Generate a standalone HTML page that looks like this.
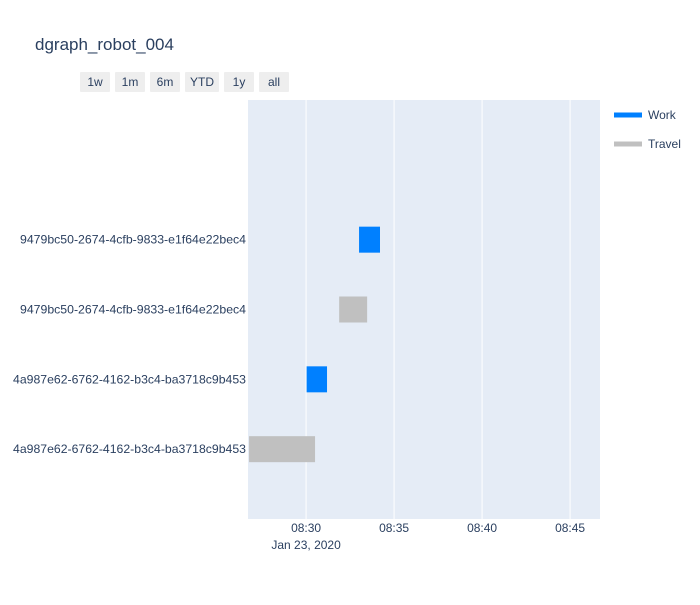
<!DOCTYPE html>
<html><head><meta charset="utf-8"><style>
body{margin:0;background:#fff;font-family:"Liberation Sans","Open Sans",sans-serif}
svg text{font-family:"Liberation Sans",sans-serif;fill:#2a3f5f}
</style></head><body>
<svg id="chart" width="700" height="600">
<rect width="700" height="600" fill="#fff"/>
<text x="35" y="50" font-size="17">dgraph_robot_004</text>
<g id="buttons"></g>
<rect x="248" y="100" width="352" height="419" fill="#e5ecf6"/>
<g id="grid"></g><g id="bars"></g><g id="ylabels"></g><g id="xlabels"></g>
<g>
<g><line x1="614" y1="115" x2="642" y2="115" stroke="#0080ff" stroke-width="5"/><text x="648" y="119" font-size="12">Work</text></g>
<g><line x1="614" y1="144" x2="642" y2="144" stroke="#c0c0c0" stroke-width="5"/><text x="648" y="148" font-size="12">Travel</text></g>
</g>
</svg>
<script>
// minutes relative to 08:30, Jan 23 2020
const categories=["4a987e62-6762-4162-b3c4-ba3718c9b453","4a987e62-6762-4162-b3c4-ba3718c9b453","9479bc50-2674-4cfb-9833-e1f64e22bec4","9479bc50-2674-4cfb-9833-e1f64e22bec4"];
const taskTypes=["Travel","Work","Travel","Work"];
const startMin=[-3.24,0.03,1.88,3.01];
const endMin=[0.51,1.19,3.47,4.2];
const tickMin=[0,5,10,15];
const tickLabels=["08:30","08:35","08:40","08:45"];
const buttonLabels=["1w","1m","6m","YTD","1y","all"];
const NS="http://www.w3.org/2000/svg";
const X0=248,X1=600,Y0=100,Y1=519,xmin=-3.3,xmax=16.7,ymin=-1,ymax=5;
const xs=t=>X0+(t-xmin)/(xmax-xmin)*(X1-X0);
const ys=i=>Y1-(i-ymin)/(ymax-ymin)*(Y1-Y0);
function mk(tag,attrs,parent){const e=document.createElementNS(NS,tag);for(const k in attrs)e.setAttribute(k,attrs[k]);document.getElementById(parent).appendChild(e);return e;}
tickMin.forEach((t,i)=>{
 const l=mk("line",{x1:xs(t),x2:xs(t),y1:Y0,y2:Y1,stroke:"#fff","stroke-width":1},"grid");
 
 
 const tx=mk("text",{x:xs(t),y:532,"font-size":12,"text-anchor":"middle"},"xlabels");
 tx.textContent=tickLabels[i];
 
 
});
const d=mk("text",{x:xs(0),y:549,"font-size":12,"text-anchor":"middle"},"xlabels");
d.textContent="Jan 23, 2020";


categories.forEach((c,i)=>{
 const x1=Math.max(xs(startMin[i]),X0),x2=xs(endMin[i]),h=26;
 const r=mk("rect",{x:x1,y:ys(i)-h/2,width:x2-x1,height:h,fill:taskTypes[i]=="Work"?"#0080ff":"#c0c0c0"},"bars");
 
 
 const t=mk("text",{x:246,y:ys(i)+4,"font-size":12,"text-anchor":"end"},"ylabels");
 t.textContent=c;
 t.setAttribute("textLength",c.startsWith("4a")?233:226);
 t.setAttribute("lengthAdjust","spacingAndGlyphs");
 
 
});
const bw=[30,30,30,34,30,30];let bx=80;
buttonLabels.forEach((b,i)=>{
 const g=mk("g",{},"buttons");
 
 
 const r=document.createElementNS(NS,"rect");
 r.setAttribute("x",bx);r.setAttribute("y",72);r.setAttribute("width",bw[i]);r.setAttribute("height",20);r.setAttribute("fill","#eeeeee");r.setAttribute("rx",1);
 g.appendChild(r);
 const t=document.createElementNS(NS,"text");
 t.setAttribute("x",bx+bw[i]/2);t.setAttribute("y",86);t.setAttribute("font-size",12);t.setAttribute("text-anchor","middle");
 t.textContent=b;g.appendChild(t);
 bx+=bw[i]+5;
});
</script>
</body></html>
